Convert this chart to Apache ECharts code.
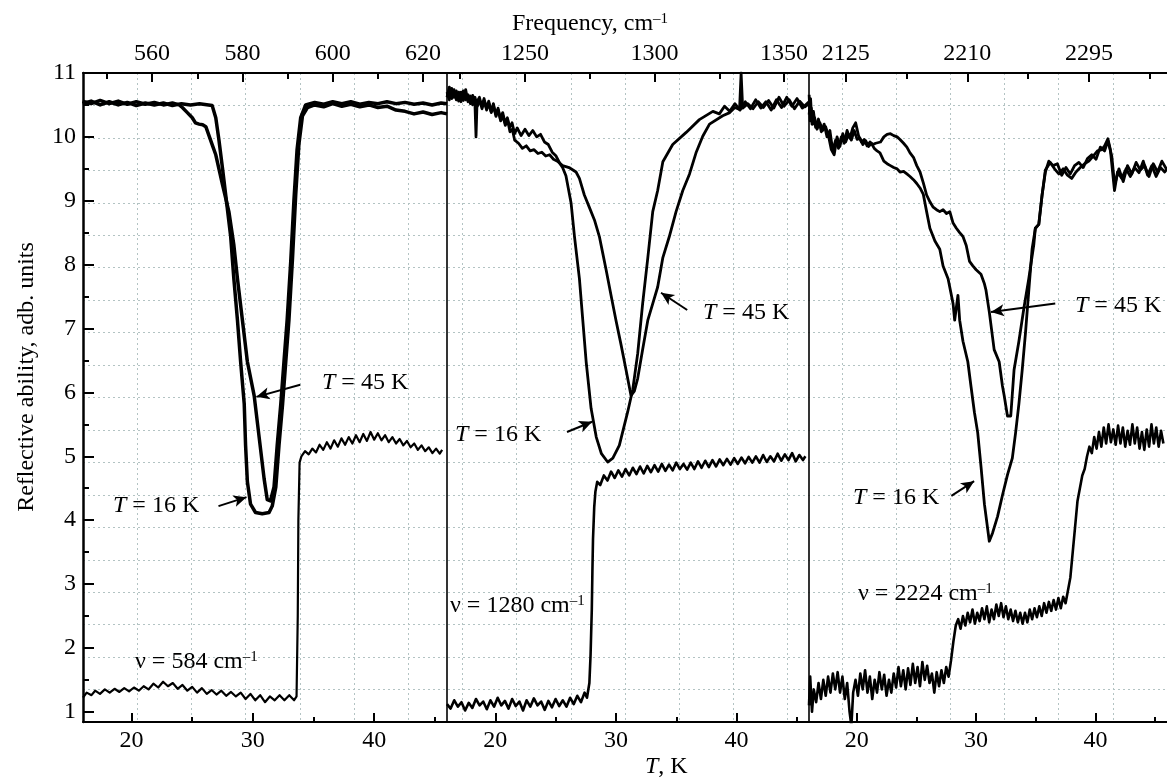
<!DOCTYPE html>
<html>
<head>
<meta charset="utf-8">
<script src="https://cdn.jsdelivr.net/npm/echarts@6/dist/echarts.min.js"></script>
<style>
  html, body { margin: 0; padding: 0; background: #fff; }
  #chart { width: 1167px; height: 778px; }
</style>
</head>
<body>
<div id="chart"></div>
<script>
// reflectance spectra (top axes, cm-1) and temperature scans (bottom axes, K)
var chart = echarts.init(document.getElementById("chart"));
var fontFam = '"Liberation Serif", "Times New Roman", serif';

// tick values
var tLabels = [20, 30, 40];
var tMinor = [25, 35, 45];
var yLabels = [1, 2, 3, 4, 5, 6, 7, 8, 9, 10, 11];
var yMinor = [1.5, 2.5, 3.5, 4.5, 5.5, 6.5, 7.5, 8.5, 9.5, 10.5];
var p1FreqLabels = [560, 580, 600, 620];
var p1FreqMinor = [550, 570, 590, 610];
var p2FreqLabels = [1250, 1300, 1350];
var p2FreqMinor = [1225, 1275, 1325];
var p3FreqLabels = [2125, 2210, 2295];
var p3FreqMinor = [2167.5, 2252.5, 2337.5];

// panel 1: spectra [frequency, R]
var p1Cold = [
  [544.6, 10.52], [546.5, 10.56], [548.5, 10.5], [550.5, 10.55], [552.5, 10.5], [554.5, 10.54], [556.5, 10.49],
  [558.5, 10.53], [560.5, 10.5], [562.5, 10.53], [564.5, 10.49], [566.5, 10.52], [568.5, 10.5], [570.5, 10.52],
  [572.5, 10.5], [573.3, 10.49], [574.1, 10.3], [574.8, 9.95], [575.6, 9.5], [576.3, 9.09], [577.4, 8.44],
  [578.1, 7.78], [578.9, 7.13], [579.6, 6.48], [580.4, 5.82], [580.7, 5.17], [581.1, 4.6], [581.8, 4.25],
  [582.9, 4.12], [584.4, 4.1], [585.9, 4.12], [586.6, 4.22], [587.4, 4.52], [588.1, 5.17], [588.9, 5.82],
  [589.6, 6.48], [590.3, 7.13], [591.1, 8.11], [591.8, 9.09], [592.5, 9.88], [593.3, 10.33], [594.4, 10.46],
  [596, 10.5], [598, 10.47], [600, 10.52], [602, 10.48], [604, 10.51], [606, 10.47], [608, 10.5], [610, 10.46],
  [612, 10.48], [614, 10.42], [616, 10.4], [618, 10.36], [620, 10.39], [622, 10.35], [624, 10.38], [625.3, 10.36]
];
var p1Warm = [
  [544.6, 10.56], [546.5, 10.52], [548.5, 10.57], [550.5, 10.52], [552.5, 10.56], [554.5, 10.51], [556.5, 10.55],
  [558.5, 10.51], [560.5, 10.54], [562.5, 10.5], [564.5, 10.53], [566, 10.5], [566.7, 10.46], [567.8, 10.38],
  [568.9, 10.3], [569.6, 10.22], [570.4, 10.2], [571.2, 10.19], [571.9, 10.16], [572.6, 10.02], [573.3, 9.88],
  [574.1, 9.72], [575.6, 9.25], [577, 8.83], [578.1, 8.31], [578.9, 7.78], [580, 7.13], [581.1, 6.48],
  [582.6, 5.95], [583.7, 5.3], [584.8, 4.65], [585.5, 4.32], [586.2, 4.3], [587, 4.52], [587.7, 5.17],
  [588.5, 5.82], [589.2, 6.48], [589.9, 7.13], [590.7, 8.05], [591.4, 9], [592.1, 9.8], [592.9, 10.3],
  [594, 10.5], [596, 10.54], [598, 10.51], [600, 10.55], [602, 10.52], [604, 10.55], [606, 10.51], [608, 10.54],
  [610, 10.52], [612, 10.55], [614, 10.52], [616, 10.54], [618, 10.51], [620, 10.53], [622, 10.5], [624, 10.53],
  [625.3, 10.52]
];
// panel 1: scan at 584 cm-1 [T, R]
var p1Scan = [
  [16, 1.22], [16.3, 1.3], [16.7, 1.26], [17, 1.33], [17.4, 1.28], [17.8, 1.35], [18.2, 1.3], [18.6, 1.36],
  [19, 1.31], [19.4, 1.37], [19.8, 1.32], [20.2, 1.38], [20.6, 1.33], [21, 1.4], [21.4, 1.35], [21.8, 1.44],
  [22.2, 1.38], [22.6, 1.47], [23, 1.4], [23.4, 1.45], [23.8, 1.36], [24.2, 1.42], [24.6, 1.33], [25, 1.39],
  [25.4, 1.3], [25.8, 1.37], [26.2, 1.28], [26.6, 1.34], [27, 1.27], [27.4, 1.33], [27.8, 1.25], [28.2, 1.31],
  [28.6, 1.24], [29, 1.3], [29.4, 1.2], [29.8, 1.28], [30.2, 1.18], [30.6, 1.26], [31, 1.15], [31.4, 1.24],
  [31.8, 1.18], [32.2, 1.26], [32.6, 1.18], [33, 1.26], [33.4, 1.18], [33.6, 1.24], [33.7, 2.5], [33.75, 4],
  [33.85, 4.9], [34, 5], [34.3, 5.08], [34.6, 5.03], [34.9, 5.12], [35.2, 5.06], [35.5, 5.18], [35.8, 5.1],
  [36.1, 5.22], [36.4, 5.12], [36.7, 5.25], [37, 5.15], [37.3, 5.28], [37.6, 5.18], [37.9, 5.3], [38.2, 5.2],
  [38.5, 5.33], [38.8, 5.22], [39.1, 5.35], [39.4, 5.24], [39.7, 5.38], [40, 5.26], [40.3, 5.36], [40.6, 5.25],
  [40.9, 5.33], [41.2, 5.22], [41.5, 5.3], [41.8, 5.2], [42.1, 5.27], [42.4, 5.17], [42.7, 5.24], [43, 5.14],
  [43.3, 5.2], [43.6, 5.1], [43.9, 5.17], [44.2, 5.08], [44.5, 5.14], [44.8, 5.05], [45.1, 5.12], [45.4, 5.04],
  [45.6, 5.1]
];

// panel 2: spectra
var p2Cold = [
  [1219.9, 10.62], [1220.8, 10.78], [1221.7, 10.6], [1222.6, 10.74], [1223.5, 10.58], [1224.4, 10.7],
  [1225.3, 10.55], [1226.2, 10.72], [1227.1, 10.58], [1228, 10.66], [1228.9, 10.52], [1229.8, 10.65],
  [1230.7, 10.5], [1231.1, 10], [1231.5, 10.55], [1232.4, 10.62], [1233.3, 10.48], [1234.2, 10.6],
  [1235.1, 10.45], [1236, 10.56], [1236.9, 10.4], [1237.8, 10.52], [1238.7, 10.35], [1239.6, 10.45],
  [1240.5, 10.28], [1241.4, 10.38], [1242.3, 10.22], [1243.2, 10.3], [1244.1, 10.15], [1245, 10.22],
  [1246, 10.05], [1247, 10.14], [1248.5, 10.02], [1250, 10.12], [1251.5, 10.02], [1253, 10.1], [1254.5, 10],
  [1256, 10.04], [1257.5, 9.92], [1259, 9.88], [1260.5, 9.76], [1262, 9.7], [1263.5, 9.58], [1264.5, 9.52],
  [1265.8, 9.39], [1267.8, 8.96], [1269.1, 8.44], [1271, 7.78], [1272.3, 7.13], [1273.6, 6.48], [1275.5, 5.75],
  [1277.5, 5.3], [1279.5, 5.04], [1281.9, 4.91], [1283.9, 4.97], [1286.4, 5.17], [1289.6, 5.69], [1291.6, 6.05],
  [1293.5, 6.61], [1295.4, 7.39], [1297.4, 8.11], [1299.3, 8.83], [1301.2, 9.16], [1303.2, 9.61], [1307, 9.88],
  [1312.2, 10.07], [1317.3, 10.27], [1322.5, 10.4], [1325, 10.36], [1327, 10.48], [1329, 10.4], [1331, 10.52],
  [1333, 10.42], [1335, 10.55], [1337, 10.44], [1339, 10.58], [1341, 10.45], [1343, 10.55], [1345, 10.42],
  [1347, 10.58], [1349, 10.46], [1351, 10.62], [1353, 10.48], [1355, 10.6], [1357, 10.45], [1359.6, 10.55]
];
var p2Warm = [
  [1219.9, 10.7], [1220.8, 10.58], [1221.7, 10.76], [1222.6, 10.62], [1223.5, 10.72], [1224.4, 10.56],
  [1225.3, 10.7], [1226.2, 10.57], [1227.1, 10.74], [1228, 10.55], [1228.9, 10.64], [1229.8, 10.5],
  [1230.7, 10.62], [1231.6, 10.48], [1232.5, 10.58], [1233.4, 10.44], [1234.3, 10.56], [1235.2, 10.42],
  [1236.1, 10.52], [1237, 10.38], [1237.9, 10.48], [1238.8, 10.32], [1239.7, 10.42], [1240.6, 10.25],
  [1241.5, 10.33], [1242.4, 10.18], [1243.3, 10.26], [1244.2, 10.08], [1245.1, 10.12], [1246, 9.95],
  [1247.5, 9.9], [1249, 9.82], [1250.5, 9.86], [1252, 9.78], [1253.5, 9.8], [1255, 9.74], [1256.5, 9.76],
  [1258, 9.7], [1259.5, 9.72], [1261, 9.65], [1262.5, 9.62], [1264.5, 9.55], [1267, 9.52], [1269.7, 9.45],
  [1271, 9.35], [1272.9, 9.09], [1274.8, 8.9], [1276.8, 8.7], [1278.7, 8.44], [1280, 8.18], [1281.3, 7.92],
  [1283.2, 7.52], [1285.1, 7.13], [1287.1, 6.74], [1289, 6.35], [1290.9, 5.95], [1292.2, 6.02], [1293.5, 6.22],
  [1295.4, 6.67], [1297.4, 7.13], [1299.3, 7.39], [1301.2, 7.65], [1303.2, 8.11], [1305.7, 8.44], [1308.3, 8.83],
  [1310.9, 9.16], [1313.5, 9.42], [1316, 9.75], [1318.6, 10.01], [1321.2, 10.2], [1326.3, 10.33], [1329, 10.38],
  [1331, 10.46], [1332.8, 10.43], [1333.4, 11], [1334, 10.45], [1336, 10.52], [1338, 10.44], [1340, 10.55],
  [1342, 10.46], [1344, 10.57], [1346, 10.45], [1348, 10.62], [1350, 10.48], [1352, 10.58], [1354, 10.44],
  [1356, 10.56], [1358, 10.47], [1359.6, 10.52]
];
// panel 2: scan at 1280 cm-1
var p2Scan = [
  [16, 1.12], [16.3, 1.05], [16.6, 1.18], [16.9, 1.08], [17.2, 1.15], [17.5, 1.02], [17.8, 1.14], [18.1, 1.06],
  [18.4, 1.2], [18.7, 1.1], [19, 1.16], [19.3, 1.04], [19.6, 1.18], [19.9, 1.08], [20.2, 1.22], [20.5, 1.1],
  [20.8, 1.17], [21.1, 1.05], [21.4, 1.2], [21.7, 1.09], [22, 1.16], [22.3, 1.02], [22.6, 1.18], [22.9, 1.08],
  [23.2, 1.21], [23.5, 1.1], [23.8, 1.16], [24.1, 1.03], [24.4, 1.17], [24.7, 1.07], [25, 1.2], [25.3, 1.09],
  [25.6, 1.18], [25.9, 1.08], [26.2, 1.22], [26.5, 1.12], [26.8, 1.25], [27.1, 1.15], [27.4, 1.3], [27.6, 1.22],
  [27.8, 1.45], [27.9, 1.9], [28, 2.6], [28.05, 3.2], [28.1, 3.7], [28.2, 4.2], [28.3, 4.45], [28.45, 4.6],
  [28.7, 4.55], [29, 4.7], [29.3, 4.62], [29.6, 4.76], [29.9, 4.66], [30.2, 4.78], [30.5, 4.68], [30.8, 4.8],
  [31.1, 4.7], [31.4, 4.82], [31.7, 4.72], [32, 4.84], [32.3, 4.73], [32.6, 4.85], [32.9, 4.75], [33.2, 4.86],
  [33.5, 4.76], [33.8, 4.88], [34.1, 4.77], [34.4, 4.87], [34.7, 4.78], [35, 4.9], [35.3, 4.8], [35.6, 4.88],
  [35.9, 4.79], [36.2, 4.9], [36.5, 4.8], [36.8, 4.92], [37.1, 4.82], [37.4, 4.93], [37.7, 4.83], [38, 4.94],
  [38.3, 4.84], [38.6, 4.95], [38.9, 4.86], [39.2, 4.96], [39.5, 4.87], [39.8, 4.97], [40.1, 4.88], [40.4, 4.98],
  [40.7, 4.89], [41, 4.99], [41.3, 4.9], [41.6, 5], [41.9, 4.9], [42.2, 5.02], [42.5, 4.91], [42.8, 5],
  [43.1, 4.92], [43.4, 5.04], [43.7, 4.93], [44, 5.03], [44.3, 4.94], [44.6, 5.05], [44.9, 4.92], [45.2, 5.02],
  [45.5, 4.94], [45.7, 5]
];

// panel 3: spectra
var p3Cold = [
  [2099.5, 10.66], [2100.2, 10.25], [2101, 10.45], [2102, 10.2], [2103.3, 10.3], [2105, 10.12], [2107, 10.22],
  [2109, 10.1], [2111, 10.16], [2113, 10.02], [2115, 9.8], [2117, 9.72], [2119, 10], [2121, 9.85], [2123, 10.05],
  [2125, 9.92], [2127, 10.04], [2129, 9.95], [2131, 10.1], [2133, 9.96], [2135, 9.98], [2137, 9.88], [2139, 9.94],
  [2141, 9.85], [2143, 9.9], [2145, 9.82], [2147, 9.78], [2149, 9.75], [2151.7, 9.62], [2154, 9.58],
  [2156.3, 9.55], [2158.6, 9.52], [2161, 9.5], [2163, 9.45], [2165.5, 9.46], [2167.8, 9.42], [2170, 9.38],
  [2172.4, 9.33], [2174.7, 9.27], [2177, 9.2], [2179.3, 9.1], [2181.6, 8.83], [2183.9, 8.57], [2187.4, 8.37],
  [2190.8, 8.24], [2193.1, 7.98], [2196.6, 7.78], [2200.1, 7.39], [2201.2, 7.13], [2203.5, 7.52], [2204.7, 7.13],
  [2207, 6.8], [2210.4, 6.48], [2212.7, 6.08], [2215, 5.69], [2217.3, 5.37], [2219.6, 4.84], [2222, 4.25],
  [2225.4, 3.67], [2227.7, 3.8], [2231.2, 4.06], [2234.6, 4.39], [2238.1, 4.71], [2241.5, 4.97], [2243.8, 5.37],
  [2246.1, 5.82], [2248.4, 6.35], [2250.7, 6.93], [2253, 7.59], [2255.3, 8.24], [2257.6, 8.57], [2260, 8.63],
  [2262.3, 9.09], [2264.6, 9.48], [2268, 9.6], [2271, 9.5], [2274, 9.42], [2277, 9.5], [2280, 9.4], [2283, 9.35],
  [2286, 9.45], [2289, 9.52], [2292, 9.58], [2295, 9.62], [2298, 9.7], [2301, 9.78], [2304, 9.8], [2306, 9.86],
  [2308.3, 9.97], [2310, 9.8], [2312.9, 9.16], [2315, 9.45], [2318, 9.35], [2321, 9.5], [2324, 9.38],
  [2327, 9.52], [2330, 9.44], [2333, 9.62], [2336, 9.4], [2339, 9.55], [2342, 9.38], [2345, 9.52], [2348, 9.45],
  [2349.6, 9.5]
];
var p3Warm = [
  [2099.5, 10.35], [2100.5, 10.6], [2101.5, 10.2], [2102.5, 10.4], [2104, 10.15], [2106, 10.28], [2108, 10.08],
  [2110, 10.2], [2112, 10], [2114, 10.1], [2116, 9.78], [2118, 9.95], [2120, 9.82], [2122, 10], [2124, 9.9],
  [2126, 10.1], [2128, 9.98], [2130, 10.14], [2132, 10.22], [2134, 10.02], [2136, 9.92], [2138, 9.96],
  [2140, 9.86], [2142, 9.92], [2144, 9.88], [2146, 9.9], [2149.4, 9.92], [2151.7, 10], [2154, 10.04],
  [2156.3, 10.05], [2158.6, 10.02], [2161, 10], [2163, 9.96], [2165.5, 9.9], [2167.8, 9.84], [2170, 9.75],
  [2172.4, 9.68], [2174.7, 9.55], [2177, 9.45], [2179.3, 9.28], [2181.6, 9.09], [2184, 8.98], [2186.2, 8.9],
  [2188.5, 8.86], [2190.8, 8.83], [2193.1, 8.86], [2195.5, 8.8], [2197.8, 8.83], [2200.1, 8.65], [2202.4, 8.57],
  [2204.7, 8.5], [2207, 8.44], [2209.3, 8.3], [2211.6, 8.05], [2213.9, 7.98], [2216.2, 7.92], [2219.6, 7.85],
  [2222, 7.7], [2223.1, 7.6], [2225.4, 7.26], [2228.8, 6.67], [2232.3, 6.48], [2234.6, 6.1], [2235.8, 5.95],
  [2238.1, 5.63], [2240.4, 5.63], [2242.7, 6.35], [2246.1, 6.8], [2249.6, 7.32], [2253, 7.78], [2256.5, 8.31],
  [2257.6, 8.57], [2260, 8.63], [2262.3, 9.09], [2264.6, 9.45], [2267, 9.62], [2270, 9.55], [2273, 9.58],
  [2276, 9.4], [2279, 9.52], [2282, 9.42], [2285, 9.55], [2288, 9.6], [2291, 9.52], [2294, 9.66], [2297, 9.72],
  [2300, 9.65], [2303, 9.84], [2306, 9.78], [2308.3, 9.94], [2311, 9.7], [2313, 9.25], [2316, 9.5], [2319, 9.3],
  [2322, 9.55], [2325, 9.42], [2328, 9.6], [2331, 9.48], [2334, 9.55], [2337, 9.38], [2340, 9.58], [2343, 9.45],
  [2346, 9.62], [2349.6, 9.48]
];
// panel 3: scan at 2224 cm-1
var p3Scan = [
  [16, 1.1], [16.1, 1.55], [16.25, 1], [16.4, 1.35], [16.6, 1.15], [16.8, 1.45], [17, 1.2], [17.2, 1.5],
  [17.4, 1.25], [17.6, 1.55], [17.8, 1.3], [18, 1.6], [18.2, 1.35], [18.4, 1.62], [18.6, 1.3], [18.8, 1.55],
  [19, 1.2], [19.2, 1.45], [19.4, 1], [19.55, 0.78], [19.7, 1.3], [19.9, 1.5], [20.1, 1.25], [20.3, 1.6],
  [20.5, 1.35], [20.7, 1.65], [20.9, 1.3], [21.1, 1.55], [21.3, 1.2], [21.5, 1.5], [21.7, 1.3], [21.9, 1.62],
  [22.1, 1.35], [22.3, 1.58], [22.5, 1.25], [22.7, 1.5], [22.9, 1.3], [23.1, 1.6], [23.3, 1.38], [23.5, 1.7],
  [23.7, 1.4], [23.9, 1.65], [24.1, 1.35], [24.3, 1.68], [24.5, 1.42], [24.7, 1.75], [24.9, 1.45], [25.1, 1.7],
  [25.3, 1.4], [25.5, 1.78], [25.7, 1.5], [25.9, 1.72], [26.1, 1.45], [26.3, 1.6], [26.5, 1.3], [26.7, 1.62],
  [26.9, 1.4], [27.1, 1.65], [27.3, 1.45], [27.5, 1.7], [27.7, 1.55], [27.9, 1.8], [28.1, 2.1], [28.3, 2.35],
  [28.5, 2.45], [28.7, 2.3], [28.9, 2.5], [29.1, 2.35], [29.3, 2.55], [29.5, 2.4], [29.7, 2.6], [29.9, 2.38],
  [30.1, 2.55], [30.3, 2.42], [30.5, 2.62], [30.7, 2.45], [30.9, 2.65], [31.1, 2.4], [31.3, 2.6], [31.5, 2.45],
  [31.7, 2.68], [31.9, 2.5], [32.1, 2.7], [32.3, 2.48], [32.5, 2.65], [32.7, 2.45], [32.9, 2.6], [33.1, 2.42],
  [33.3, 2.58], [33.5, 2.4], [33.7, 2.55], [33.9, 2.38], [34.1, 2.55], [34.3, 2.4], [34.5, 2.6], [34.7, 2.45],
  [34.9, 2.62], [35.1, 2.48], [35.3, 2.65], [35.5, 2.5], [35.7, 2.7], [35.9, 2.55], [36.1, 2.72], [36.3, 2.58],
  [36.5, 2.75], [36.7, 2.6], [36.9, 2.78], [37.1, 2.62], [37.3, 2.8], [37.5, 2.7], [37.7, 2.9], [37.9, 3.1],
  [38.1, 3.5], [38.3, 3.9], [38.5, 4.3], [38.7, 4.5], [38.9, 4.7], [39.1, 4.8], [39.3, 5], [39.5, 5.15],
  [39.7, 5.05], [39.9, 5.3], [40.1, 5.12], [40.3, 5.38], [40.5, 5.15], [40.7, 5.45], [40.9, 5.2], [41.1, 5.5],
  [41.3, 5.22], [41.5, 5.42], [41.7, 5.18], [41.9, 5.48], [42.1, 5.2], [42.3, 5.45], [42.5, 5.15], [42.7, 5.4],
  [42.9, 5.18], [43.1, 5.5], [43.3, 5.2], [43.5, 5.45], [43.7, 5.12], [43.9, 5.38], [44.1, 5.1], [44.3, 5.42],
  [44.5, 5.15], [44.7, 5.5], [44.9, 5.2], [45.1, 5.45], [45.3, 5.15], [45.5, 5.4], [45.7, 5.2]
];

// annotation arrows [from, to] in spectrum coordinates: 45 K first, then 16 K
var p1Arrows = [[[592.8, 6.12], [583.1, 5.93]], [[574.7, 4.22], [580.9, 4.36]]];
var p2Arrows = [[[1312.6, 7.29], [1302.5, 7.56]], [[1266.2, 5.38], [1275.9, 5.54]]];
var p3Arrows = [[[2271.5, 7.39], [2226.6, 7.26]], [[2198.9, 4.38], [2214.8, 4.61]]];

var panels = [
  { left: 83, width: 364, freq: [544.7, 625.3], fLab: p1FreqLabels, fMin: p1FreqMinor,
    cold: p1Cold, warm: p1Warm, scan: p1Scan, arrows: p1Arrows, lw: 3.5, sw: 2.2 },
  { left: 447, width: 362, freq: [1219.9, 1359.6], fLab: p2FreqLabels, fMin: p2FreqMinor,
    cold: p2Cold, warm: p2Warm, scan: p2Scan, arrows: p2Arrows, lw: 2.8, sw: 2.6 },
  { left: 809, width: 362, freq: [2099.4, 2349.6], fLab: p3FreqLabels, fMin: p3FreqMinor,
    cold: p3Cold, warm: p3Warm, scan: p3Scan, arrows: p3Arrows, lw: 2.8, sw: 2.6 }
];

var labelFont = { color: "#000", fontSize: 24, fontFamily: fontFam };
var gridTop = 73, gridH = 649;
var yMin = 0.84, yMax = 11;

function tickAxis(gi, pos, min, max, values, len, showLine, showLabel) {
  return {
    type: "value", gridIndex: gi, position: pos, min: min, max: max,
    axisLine: { show: showLine, onZero: false, lineStyle: { color: "#000", width: 2 } },
    axisTick: { show: true, inside: true, length: len, customValues: values, lineStyle: { color: "#000", width: 2 } },
    axisLabel: Object.assign({
      show: showLabel, customValues: values, margin: 7,
      formatter: function (v) { return String(v); }
    }, labelFont),
    splitLine: { show: false }
  };
}

var grids = [{ left: 83, top: gridTop, width: 1088, height: gridH }];
var xAxes = [{
  type: "value", gridIndex: 0, min: 0, max: 20, interval: 1,
  axisLine: { show: false }, axisTick: { show: false }, axisLabel: { show: false },
  splitLine: { show: true, lineStyle: { color: "#b3c3c3", width: 1, type: [2, 3] } }
}];
var yAxes = [{
  type: "value", gridIndex: 0, min: 0, max: 20, interval: 1,
  axisLine: { show: false }, axisTick: { show: false }, axisLabel: { show: false },
  splitLine: { show: true, lineStyle: { color: "#b3c3c3", width: 1, type: [2, 3] } }
}];
var series = [];

panels.forEach(function (p, i) {
  var gi = i + 1;
  grids.push({ left: p.left, top: gridTop, width: p.width, height: gridH });
  var tIdx = xAxes.length;
  xAxes.push(tickAxis(gi, "bottom", 16, 46, tLabels, 9, true, true));
  xAxes.push(tickAxis(gi, "bottom", 16, 46, tMinor, 5, false, false));
  var fIdx = xAxes.length;
  xAxes.push(tickAxis(gi, "top", p.freq[0], p.freq[1], p.fLab, 9, true, true));
  xAxes.push(tickAxis(gi, "top", p.freq[0], p.freq[1], p.fMin, 6, false, false));

  var yIdx = yAxes.length;
  if (i === 0) {
    var ya = tickAxis(gi, "left", yMin, yMax, yLabels, 11, true, true);
    ya.axisLine.lineStyle.width = 2.5;
    yAxes.push(ya);
    yAxes.push(tickAxis(gi, "left", yMin, yMax, yMinor, 6, false, false));
  } else {
    yAxes.push({
      type: "value", gridIndex: gi, position: "left", min: yMin, max: yMax,
      axisLine: { show: true, lineStyle: { color: "#000", width: 1.6 } },
      axisTick: { show: false }, axisLabel: { show: false }, splitLine: { show: false }
    });
  }

  function arrow(a) {
    return {
      silent: true, symbol: ["none", "arrow"], symbolSize: [9, 13],
      label: { show: false }, lineStyle: { color: "#000", width: 2, type: "solid" },
      emphasis: { disabled: true },
      data: [[{ coord: a[0] }, { coord: a[1] }]]
    };
  }

  series.push({
    type: "line", name: "T = 16 K", xAxisIndex: fIdx, yAxisIndex: yIdx, data: p.cold,
    showSymbol: false, symbol: "none", silent: true,
    lineStyle: { color: "#000", width: p.lw, join: "round" }, markLine: arrow(p.arrows[1])
  });
  series.push({
    type: "line", name: "T = 45 K", xAxisIndex: fIdx, yAxisIndex: yIdx, data: p.warm,
    showSymbol: false, symbol: "none", silent: true,
    lineStyle: { color: "#000", width: p.lw, join: "round" }, markLine: arrow(p.arrows[0])
  });
  series.push({
    type: "line", name: "scan", xAxisIndex: tIdx, yAxisIndex: yIdx, data: p.scan,
    showSymbol: false, symbol: "none", silent: true,
    lineStyle: { color: "#000", width: p.sw, join: "round" }
  });
});

// text labels
var rich = {
  it: { fontStyle: "italic", fontSize: 24, fontFamily: fontFam, fill: "#000" },
  sup: { fontSize: 15, fontFamily: fontFam, verticalAlign: "top", fill: "#000" }
};
function txt(x, y, s, extra) {
  var el = {
    type: "text", x: x, y: y, silent: true, z: 100,
    style: {
      text: s, fontSize: 24, fontFamily: fontFam, fill: "#000",
      textAlign: "left", textVerticalAlign: "middle", rich: rich
    }
  };
  return Object.assign(el, extra || {});
}
var graphics = [
  txt(322, 383, "{it|T} = 45 K"),
  txt(113, 506, "{it|T} = 16 K"),
  txt(135, 662, "\u03bd = 584 cm{sup|\u20131}"),
  txt(703, 313, "{it|T} = 45 K"),
  txt(455, 435, "{it|T} = 16 K"),
  txt(450, 606, "\u03bd = 1280 cm{sup|\u20131}"),
  txt(1075, 306, "{it|T} = 45 K"),
  txt(853, 498, "{it|T} = 16 K"),
  txt(858, 594, "\u03bd = 2224 cm{sup|\u20131}"),
  txt(512, 24, "Frequency, cm{sup|\u20131}"),
  txt(645, 767, "{it|T}, K"),
  txt(27, 377, "Reflective ability, adb. units", { rotation: Math.PI / 2 })
];
graphics[11].style.textAlign = "center";

var option = {
  animation: false,
  backgroundColor: "#fff",
  grid: grids,
  xAxis: xAxes,
  yAxis: yAxes,
  series: series,
  graphic: graphics
};
chart.setOption(option);
</script>
</body>
</html>
